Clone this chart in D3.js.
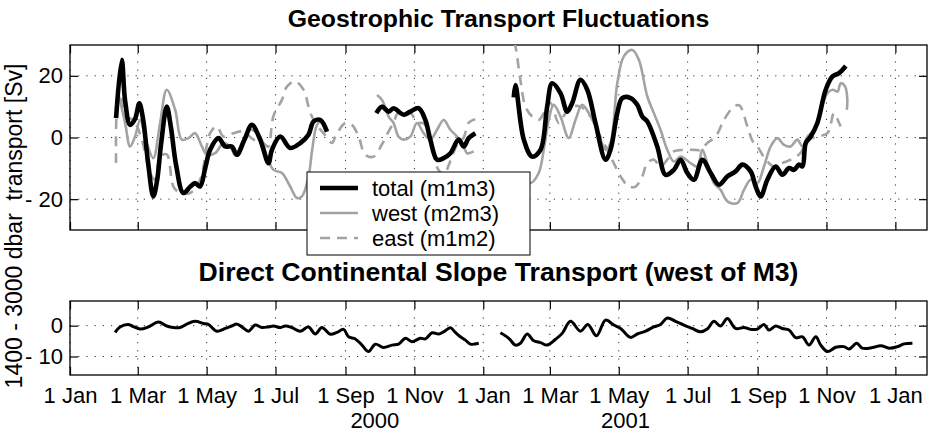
<!DOCTYPE html>
<html>
<head>
<meta charset="utf-8">
<script src="https://cdn.jsdelivr.net/npm/d3@7"></script>
<style>
  body { margin: 0; background: #fff; }
  svg text { font-family: "Liberation Sans", Arial, Helvetica, sans-serif; fill: #000; }
</style>
</head>
<body>
<div id="chart"></div>
<script>
// days since 1 Jan 2000, transport in Sv; null = gap in the record

const total = [
  [40.8, 6.3], [45.8, 25.2], [48.8, 12], [53.2, 4.1], [57.6, 6], [61.4, 11.1], [64.7, 6],
  [69.1, -8], [73.8, -19.1], [77.1, -14], [80.7, -2], [85.7, 10], [89.5, 3], [94, -9],
  [100.4, -18], [106.4, -16], [110.8, -14.8], [115.2, -15.9], [119.7, -10], [124.1, -4],
  [131.5, -0.2], [137.4, -2.9], [143.3, -2.9], [147.8, -5.6], [154.2, -1], [161.1, 4.1],
  [168.4, -0.7], [175.8, -8.3], [178.8, -4], [186.2, 0.3], [195, -3.4], [203.9, -1.8],
  [211.2, 0.9], [215.7, 5.2], [221.6, 5.7], [227.6, 1.9],
  null,
  [271.3, 7.9], [276.3, 10], [282.2, 8.4], [286.6, 9.5], [295.5, 7.4], [301.4, 8.4],
  [308.8, 9.5], [314.7, 5.7], [319.1, -0.7], [325.1, -7.2], [330.9, -6.7], [336.9, -5.1],
  [344.2, -0.7], [348.7, -2.9], [353.1, -0.2], [359, 1.4],
  null,
  [393, 13], [394.5, 17], [401.9, -0.7], [409.3, -6.2], [416.7, -4], [422.6, 10], [427, 17.6],
  [434.4, 14.4], [440.3, 8.4], [444.8, 11.2], [452.1, 18.7], [458.1, 15.5], [465.4, 4.7],
  [474.3, -7.2], [478.7, -4], [484.7, 7.9], [489.1, 12.8], [496.5, 12.8], [502.4, 10.6],
  [506.8, 6.8], [511.3, 5.2], [520.1, -2.9], [527.5, -12.1], [534.8, -10.5], [540.8, -7.2],
  [546.7, -11.5], [552.6, -13.7], [560, -7.2], [567.4, -11.5], [574.7, -15.3], [582.2, -12.6],
  [589.5, -11], [595.5, -8.8], [602.8, -11], [607.3, -15.9], [611.7, -19.1], [617.6, -13.7],
  [625, -9.4], [630.9, -12.1], [636.8, -9.9], [641.2, -10.5], [645.7, -8.8], [648.7, -9.4],
  [651.6, -1.8], [656, 0.3], [661.9, 4.7], [669.3, 15.5], [675.3, 19.8], [681.1, 20.9],
  [687.1, 23.2]
];

const west = [
  [41.4, 15.5], [42.6, 14.4], [48.8, 4.7], [53.2, -2.9], [57.6, 0.3], [62.1, 5.7], [68, -1.8],
  [73.8, -6.7], [79.8, 4.7], [85.7, 15.5], [93.1, 9], [99, -0.7], [104.9, -0.2], [110.8, 1.4],
  [116.8, -2.9], [121.2, -5.6], [128.5, -5.1], [135.9, -1.8], [141.8, -2.9], [146.3, -5.6],
  [153.6, -0.7], [159.6, 2.5], [168.4, 0.3], [174.4, -6.2], [180.2, -10.5], [187.7, -11.5],
  [195, -15.9], [201, -19.6], [205.4, -19.1], [211.3, -12.6], [214.5, -4], [218.7, 4],
  [223.1, 5.5], [227.6, 1.9],
  null,
  [271.9, 13.8], [276.3, 12.2], [282.2, 6.8], [286.6, 4.7], [291, 0.3], [295.5, -0.7],
  [301.4, 0.3], [307.3, 4.7], [313.2, 1.4], [319.1, -0.7], [325.1, 2.5], [330.9, 5.7],
  [336.9, 2.5], [342.8, 0.3], [348.7, -2.9], [351.7, -5.1], [357.5, -4.5],
  null,
  [393, -16], [398.9, -13], [407.8, -14.8], [415.1, -11.5], [419.6, -4], [424, 5.7],
  [428.4, 10.6], [434.4, 6.8], [441.7, -0.2], [447.7, 5.7], [453.6, 10.6], [459.5, 7.9],
  [466.9, 2.5], [474.3, -4], [478.7, -1.8], [484.7, 17.6], [490.5, 26.3], [498, 28.4],
  [503.8, 25.2], [511.3, 13.3], [517.1, 7.9], [523, 2.5], [529, -4], [534.8, -7.8],
  [540.8, -6.2], [549.6, -8.3], [555.6, -9.4], [560, -4], [564.4, -8.3], [570.3, -14.8],
  [576.2, -17], [582.2, -20.7], [591, -21.3], [596.9, -17], [602.8, -13.7], [608.8, -14.8],
  [614.6, -9.4], [620.6, -2.9], [626.5, -0.2], [632.4, -2.4], [638.3, -2.9], [644.2, -0.7],
  [648.7, -2.9], [653.1, 0.3], [659, 2.5], [664.9, 9], [670.8, 14.4], [675.3, 15.5],
  [679.7, 14.9], [682.6, 17.6], [686.5, 16.5], [688.4, 12.5], [688, 9]
];

const east = [
  [40.8, -8.3], [42.8, 12.2], [45.2, 13], [48.8, 6.8], [56.1, 5.7], [63.6, -0.7], [70.9, -11.5],
  [75.4, -13.7], [79.8, -6.2], [85.7, -5.5], [91.6, -15.9], [97.5, -18], [106.4, -18],
  [115.2, -13.7], [124.1, 1.4], [130, 3.6], [135.9, 0.3], [144.8, 1.4], [153.6, 1.9],
  [162.5, -0.7], [171.4, -1.8], [175.5, -3], [180.2, 7], [187.7, 12.2], [192.1, 16.5],
  [199.5, 18.2], [206.8, 15.5], [212.8, 8], [218.7, 4], [224.5, 1.4], [232, -1.8], [235, 0.3],
  [243.8, 4.7], [249.7, 4.1], [255.6, 0.3], [261.5, -5.6], [268.9, -6.2], [276.3, -2.2],
  [282.2, 2], [286.6, 4.8], [291, 8.2], [301.4, 8.1], [307.3, 4.8], [313.2, 4.6], [319.1, 0],
  [325.1, -9.7], [330.9, -12], [336.9, -7.6], [342.8, -2.3], [348.7, 0], [353.1, 4.8], [359, 5.9],
  null,
  [393, 31], [394.5, 29.5], [398.9, 18.7], [403.4, 10], [409.3, 6.8], [415.1, 5.7], [419.6, 7.9],
  [425.5, 11.2], [432.9, 4.7], [438.8, 7.9], [444.8, 10], [452.1, 10], [461, 6.8], [468.3, 1.4],
  [475.8, -4], [481.6, -8.3], [487.6, -12.6], [494.9, -15.9], [500.9, -15.9], [506.8, -12.6],
  [511.3, -8.3], [517.1, -7.2], [523, -9.4], [529, -7.2], [534.8, -4.5], [543.7, -4],
  [552.6, -4], [558.5, -4], [564.4, -1.8], [571.8, 0.3], [579.2, 5.7], [586.6, 9.5],
  [592.5, 10.5], [599.9, 3.6], [604.3, -1], [608.8, -2.9], [616.1, -7.2], [623.5, -9.4],
  [630.9, -8.3], [638.3, -7.2], [647.1, -5], [653.1, -0.7], [661.9, 0.3], [670.8, 1.4],
  [676.7, 7.9], [681.1, 4.7], [682.6, 3.6]
];

const slope = [
  [39.9, -2.2], [44.3, -0.4], [51.7, 0.4], [56.1, -0.3], [62.1, -1.1], [69.4, -0.4], [78.3, 1.2],
  [85.7, -0.1], [91.6, -0.6], [97.5, -0.6], [103.4, 0.5], [110.8, 1.4], [118.2, 0.7],
  [122.6, 0.4], [130, -1.8], [137.4, -0.9], [143.3, -0.1], [147.8, 0.5], [152.2, -0.4],
  [158.1, -1.8], [164, 0.2], [169.9, -0.6], [175.8, -0.4], [180.2, -0.1], [186.2, -0.6],
  [190.6, -0.1], [196.5, -0.6], [203.9, -1.8], [211.2, -0.4], [217.2, -2.7], [223.1, -0.6],
  [230.5, -2.8], [236.4, -2.2], [242.3, -1.2], [246.7, -3.6], [252.7, -4.3], [258.6, -6.3],
  [264.4, -8.4], [270.4, -6], [277.7, -7.1], [285.2, -6.3], [291, -6], [297, -4.1],
  [302.9, -5.2], [310.3, -4.1], [314.7, -4.3], [320.7, -2.3], [326.5, -2.7], [330.9, -2],
  [336.9, -0.7], [341.3, -2.2], [345.7, -3.6], [350.2, -4.7], [354.6, -6], [362, -5.7],
  null,
  [381.2, -2.3], [388.6, -4.1], [394.5, -6.3], [398.9, -5.7], [404.9, -2.7], [410.7, -4.9],
  [416.7, -5.5], [422.6, -6.3], [430, -4.4], [435.9, -2.5], [443.3, 1.4], [452.1, -1.8],
  [458.6, 0.4], [466.3, -3.3], [474.3, 1.8], [481.6, 0.2], [487.6, -0.9], [496.5, -3.8],
  [502.4, -2.7], [509.8, -1.8], [517.1, -0.4], [523, 0.4], [529, 2.5], [536.3, 1.4],
  [543.7, 0.2], [551.1, -0.9], [558.5, -2], [564.4, -1.1], [570.3, 1.4], [576.2, -0.1],
  [582.2, 2.3], [589.5, -0.9], [596.9, -0.6], [602.8, -1.2], [608.8, -1.1], [614.6, 0.4],
  [619, -1.4], [625, -0.1], [630.9, -0.9], [636.8, -1.4], [642.7, -3.9], [648.7, -3.6],
  [654.5, -6.3], [660.5, -3.6], [664.9, -6.3], [670.8, -8.4], [678.2, -7], [685.5, -6.8],
  [690, -7.6], [696.8, -5.7], [701.8, -7.3], [710.7, -7.1], [718.1, -6.5], [725.5, -7.3],
  [732.8, -6.8], [738.7, -5.9], [746.1, -5.7]
];

const topTicks = [-20, 0, 20];
const bottomTicks = [-10, 0];
const yearLabels = [["2000", "2000-09-27"], ["2001", "2001-05-07"]];
const legendLabels = ["total (m1m3)", "west (m2m3)", "east (m1m2)"];
const titles = ["Geostrophic Transport Fluctuations", "Direct Continental Slope Transport (west of M3)"];

const w = 932, h = 438;
const left = 70, right = 927;
const top1 = 45, bot1 = 230, top2 = 301, bot2 = 375;

const base = new Date(2000, 0, 1);
const toDate = d => new Date(base.getTime() + d * 86400000);

const svg = d3.select('#chart').append('svg')
  .attr('width', w)
  .attr('height', h);

const x = d3.scaleTime()
  .domain([base, new Date(2002, 0, 29)])
  .range([left, right]);

const monthTicks = d3.timeMonth.every(2).range(base, new Date(2002, 0, 29));

// draw one framed panel: grid, ticks on all four sides, labels left (and bottom if asked)
function panel(y, top, bot, yTicks, xLabels, id) {
  const g = svg.append('g');

  g.append('clipPath').attr('id', id)
    .append('rect')
    .attr('x', left).attr('y', top)
    .attr('width', right - left).attr('height', bot - top);

  // dotted grid
  g.append('g').selectAll('line.vx')
    .data(monthTicks)
    .join('line')
    .attr('x1', d => x(d)).attr('x2', d => x(d))
    .attr('y1', top).attr('y2', bot)
    .attr('stroke', '#333').attr('stroke-width', 1)
    .attr('stroke-dasharray', '1.2,7');
  g.append('g').selectAll('line.hy')
    .data(yTicks)
    .join('line')
    .attr('x1', left).attr('x2', right)
    .attr('y1', d => y(d)).attr('y2', d => y(d))
    .attr('stroke', '#333').attr('stroke-width', 1)
    .attr('stroke-dasharray', '1.2,7');

  const fmtY = d => d < 0 ? '- ' + Math.abs(d) : String(d);

  const axB = g.append('g').attr('transform', `translate(0,${bot})`)
    .call(d3.axisBottom(x).tickValues(monthTicks).tickSizeInner(-8).tickSizeOuter(0)
      .tickPadding(12).tickFormat(xLabels ? d3.timeFormat('%-d %b') : ''));
  const axT = g.append('g').attr('transform', `translate(0,${top})`)
    .call(d3.axisTop(x).tickValues(monthTicks).tickSizeInner(-8).tickSizeOuter(0).tickFormat(''));
  const axL = g.append('g').attr('transform', `translate(${left},0)`)
    .call(d3.axisLeft(y).tickValues(yTicks).tickSizeInner(-8).tickSizeOuter(0)
      .tickPadding(7).tickFormat(fmtY));
  const axR = g.append('g').attr('transform', `translate(${right},0)`)
    .call(d3.axisRight(y).tickValues(yTicks).tickSizeInner(-8).tickSizeOuter(0).tickFormat(''));

  [axB, axT, axL, axR].forEach(a => {
    a.selectAll('.domain').remove();
    a.selectAll('line').attr('stroke', '#000').attr('stroke-width', 1.2);
    a.selectAll('text').style('font-size', '22px').attr('font-family', null).attr('fill', '#000');
  });

  g.append('rect')
    .attr('x', left).attr('y', top)
    .attr('width', right - left).attr('height', bot - top)
    .attr('fill', 'none').attr('stroke', '#000').attr('stroke-width', 1.3);

  return g;
}

const y1 = d3.scaleLinear().domain([-30, 30]).range([bot1, top1]);
const y2 = d3.scaleLinear().domain([-16, 8]).range([bot2, top2]);

const p1 = panel(y1, top1, bot1, topTicks, false, 'clip1');
const p2 = panel(y2, top2, bot2, bottomTicks, true, 'clip2');

const line1 = d3.line()
  .defined(d => d !== null)
  .x(d => x(toDate(d[0])))
  .y(d => y1(d[1]))
  .curve(d3.curveCatmullRom.alpha(0.5));

const line2 = d3.line()
  .defined(d => d !== null)
  .x(d => x(toDate(d[0])))
  .y(d => y2(d[1]))
  .curve(d3.curveCatmullRom.alpha(0.5));

const series = [
  { data: east, color: '#a3a3a3', width: 2.6, dash: '10,7' },
  { data: west, color: '#a3a3a3', width: 2.6, dash: null },
  { data: total, color: '#000', width: 4.6, dash: null }
];

const lines1 = p1.append('g').attr('clip-path', 'url(#clip1)');
series.forEach(s => {
  lines1.append('path')
    .attr('d', line1(s.data))
    .attr('fill', 'none')
    .attr('stroke', s.color)
    .attr('stroke-width', s.width)
    .attr('stroke-dasharray', s.dash)
    .attr('stroke-linejoin', 'round');
});

p2.append('g').attr('clip-path', 'url(#clip2)')
  .append('path')
  .attr('d', line2(slope))
  .attr('fill', 'none')
  .attr('stroke', '#000')
  .attr('stroke-width', 3)
  .attr('stroke-linejoin', 'round');

// titles
svg.append('text')
  .attr('x', (left + right) / 2).attr('y', 27)
  .attr('text-anchor', 'middle')
  .style('font-size', '24.8px').style('font-weight', 'bold')
  .text(titles[0]);
svg.append('text')
  .attr('x', (left + right) / 2).attr('y', 281)
  .attr('text-anchor', 'middle')
  .style('font-size', '26.6px').style('font-weight', 'bold')
  .text(titles[1]);

// year labels under the date ticks
svg.append('g').selectAll('text')
  .data(yearLabels)
  .join('text')
  .attr('x', d => x(d3.timeParse('%Y-%m-%d')(d[1])))
  .attr('y', 428)
  .attr('text-anchor', 'middle')
  .style('font-size', '22px')
  .text(d => d[0]);

// y axis label, kept just inside the left edge
svg.append('text')
  .attr('transform', 'translate(22,226) rotate(-90)')
  .attr('text-anchor', 'middle')
  .style('font-size', '23px')
  .style('white-space', 'pre')
  .text('1400 - 3000 dbar  transport [Sv]');

// legend
const legend = svg.append('g').attr('id', 'legend');
legend.append('rect')
  .attr('x', 307).attr('y', 172)
  .attr('width', 223).attr('height', 83)
  .attr('fill', '#fff').attr('stroke', '#000').attr('stroke-width', 1);

const legendStyle = [series[2], series[1], series[0]];
legendLabels.forEach((lab, i) => {
  const yy = 188 + i * 25;
  legend.append('line')
    .attr('x1', 320).attr('x2', 358)
    .attr('y1', yy).attr('y2', yy)
    .attr('stroke', legendStyle[i].color)
    .attr('stroke-width', legendStyle[i].width)
    .attr('stroke-dasharray', legendStyle[i].dash);
  legend.append('text')
    .attr('x', 372).attr('y', yy + 8)
    .style('font-size', '22px')
    .text(lab);
});
</script>
</body>
</html>
